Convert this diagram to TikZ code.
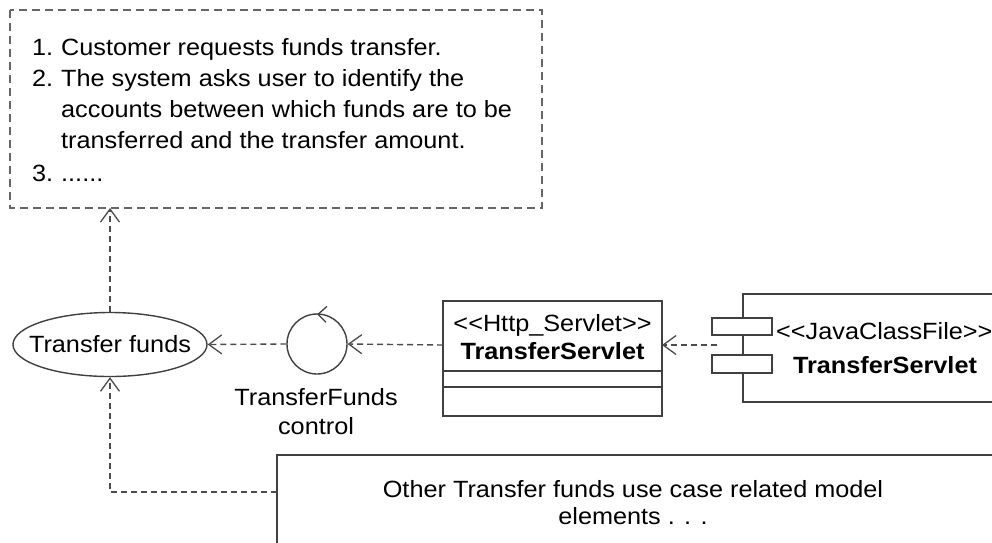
\documentclass[tikz,border=0pt]{standalone}
\usepackage{fontspec}
\setmainfont[FakeStretch=1.075]{Liberation Sans}
\usetikzlibrary{arrows.meta,shapes.geometric,calc}
\tikzset{
  txt/.style={font=\fontsize{23.5}{28}\selectfont, inner sep=0pt, text=black},
  btxt/.style={font=\fontsize{23.5}{28}\selectfont\bfseries, inner sep=0pt, text=black},
  solidbox/.style={draw=black!75, line width=1.4pt, fill=white},
  dep/.style={draw=black!70, line width=1.4pt, dash pattern=on 6pt off 4pt,
     -{Straight Barb[length=13pt,width=19pt,line width=1.3pt]}},
  notebox/.style={draw=black!60, line width=1.5pt, dash pattern=on 8pt off 5pt},
}
\begin{document}
\begin{tikzpicture}[x=1pt,y=-1pt]
\useasboundingbox (0,0) rectangle (992,542);
\clip (0,0) rectangle (992,542);
\fill[white] (0,0) rectangle (992,542);

% note
\draw[notebox] (10,10) rectangle (542,208);
\coordinate (noteb) at (110,208);
\node[txt, anchor=base west] (n1) at (32,55) {1.};
\node[txt, anchor=base west] (l1) at (61,55) {Customer requests funds transfer.};
\node[txt, anchor=base west] (n2) at (32,86) {2.};
\node[txt, anchor=base west] (l2) at (61,86) {The system asks user to identify the};
\node[txt, anchor=base west] (l3) at (61,117) {accounts between which funds are to be};
\node[txt, anchor=base west] (l4) at (61,148) {transferred and the transfer amount.};
\node[txt, anchor=base west] (n3) at (32,181) {3.};
\node[txt, anchor=base west] (l5) at (61,181) {......};

% use case ellipse
\node[ellipse, draw=black!75, line width=1.4pt, minimum width=194pt, minimum height=64pt,
      inner sep=0pt] (uc) at (110,344.5) {};
\node[txt] (uct) at (uc.center) {Transfer funds};

% control circle
\node[circle, draw=black!75, line width=1.4pt, minimum size=60pt, inner sep=0pt] (ctl) at (317,344) {};
\draw[black!75, line width=1.3pt] ($(ctl.north)+(10,-7)$) -- ($(ctl.north)+(1,1)$) -- ($(ctl.north)+(9,9)$);
\node[txt, anchor=base] (ctlA) at (316,405) {TransferFunds};
\node[txt, anchor=base] (ctlB) at (316,434) {control};

% class box
\draw[solidbox] (443,301) rectangle (662,416);
\coordinate (clsW) at (443,345);
\coordinate (clsE) at (662,345);
\draw[black!75, line width=1.4pt] (443,371) -- (662,371);
\draw[black!75, line width=1.4pt] (443,387) -- (662,387);
\node[txt, anchor=base] (st1) at (552.5,331) {<{}<Http\_Servlet>{}>};
\node[btxt, anchor=base] (cn1) at (552.5,359) {TransferServlet};

% component
\draw[solidbox] (743,294) rectangle (1010,402);
\draw[solidbox] (712,318) rectangle (772,335);
\draw[solidbox] (712,355) rectangle (772,373);
\coordinate (cmpW) at (717,345);
\node[txt, anchor=base west] (st2) at (776,339) {<{}<JavaClassFile>{}>};
\node[btxt, anchor=base] (cn2) at (885,373) {TransferServlet};

% other elements box
\draw[solidbox] (277,455) rectangle (1010,560);
\coordinate (othW) at (277,492);
\coordinate (othC) at (110,492);
\node[txt, anchor=base] (o1) at (633,497) {Other Transfer funds use case related model};
\node[txt, anchor=base] (o2) at (633,524) {elements . . .};

% connectors
\draw[dep] (uc.north) -- (noteb);
\draw[dep] (ctl.west) -- (uc.east);
\draw[dep] (clsW) -- (ctl.east);
\draw[dep] (cmpW) -- (clsE);
\draw[dep] (othW) -- (othC) -- (uc.south);
\end{tikzpicture}
\end{document}
